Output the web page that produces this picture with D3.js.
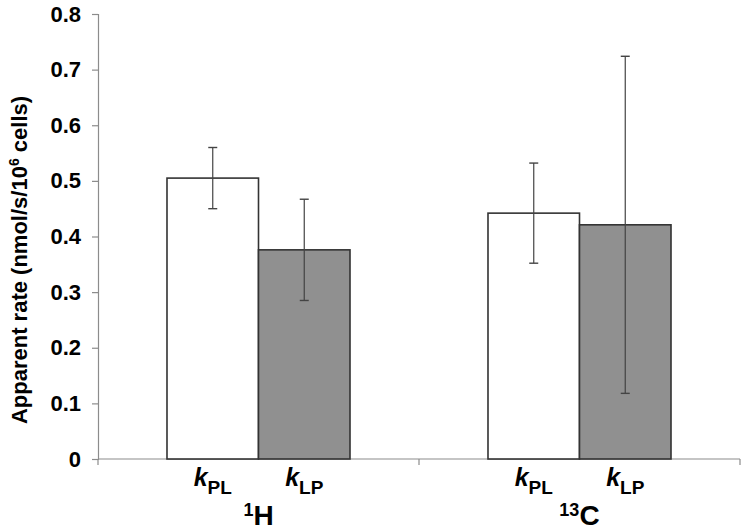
<!DOCTYPE html>
<meta charset="utf-8">
<script src="https://d3js.org/d3.v7.min.js"></script>
<style>
  body { margin: 0; background: #fff; }
  text { font-family: "Liberation Sans", Arial, sans-serif; font-weight: bold; fill: #000; }
</style>
<div id="vis"></div>
<script type="text/javascript">

var groups = ["1H", "13C"];
var groupSup = ["1", "13"];
var groupMain = ["H", "C"];
var rates = ["PL", "LP"];
var values = [[0.505, 0.376], [0.442, 0.421]];
var errors = [[0.055, 0.091], [0.090, 0.303]];
var yTicks = [0, 0.1, 0.2, 0.3, 0.4, 0.5, 0.6, 0.7, 0.8];
var fills = {PL: "#ffffff", LP: "#909090"};

var W = 744, H = 531;
var margin = {top: 14, right: 4, bottom: 72, left: 98},
    width = W - margin.left - margin.right,
    height = H - margin.top - margin.bottom;

var root = d3.select("#vis")
  .append("svg")
    .attr("width", W)
    .attr("height", H);

var svg = root.append("g")
    .attr("transform", "translate(" + margin.left + "," + margin.top + ")");

var x0 = d3.scaleBand()
  .domain(groups)
  .range([0, width]);

var x1 = d3.scaleBand()
  .domain(rates)
  .range([0, x0.bandwidth()])
  .paddingOuter(0.754);

var y = d3.scaleLinear()
  .domain([0, 0.8])
  .range([height, 0]);

// y axis
var yAxis = svg.append("g")
  .call(d3.axisLeft(y).tickValues(yTicks).tickSize(6).tickPadding(11)
    .tickFormat(d => d === 0 ? "0" : d3.format(".1f")(d)));
yAxis.select(".domain").attr("stroke", "#8c8c8c").attr("stroke-width", 1.2);
yAxis.selectAll(".tick line").attr("stroke", "#8c8c8c").attr("stroke-width", 1.2);
yAxis.selectAll(".tick text").style("font-size", "22px").attr("font-family", null);

// x axis: ticks at group boundaries
var xEdges = [0, x0.bandwidth(), width];
svg.append("line")
  .attr("x1", 0).attr("x2", width)
  .attr("y1", height).attr("y2", height)
  .attr("stroke", "#8c8c8c").attr("stroke-width", 1.2);
svg.selectAll(".xtick").data(xEdges)
  .enter().append("line")
    .attr("x1", d => d).attr("x2", d => d)
    .attr("y1", height).attr("y2", height + 6)
    .attr("stroke", "#8c8c8c").attr("stroke-width", 1.2);

// bars
var g = svg.selectAll(".grp").data(groups)
  .enter().append("g")
    .attr("transform", d => "translate(" + x0(d) + ",0)");

g.selectAll("rect").data((d, i) => rates.map((r, j) => ({r: r, v: values[i][j], e: errors[i][j]})))
  .enter().append("rect")
    .attr("x", d => x1(d.r))
    .attr("y", d => y(d.v))
    .attr("width", x1.bandwidth())
    .attr("height", d => height - y(d.v))
    .attr("fill", d => fills[d.r])
    .attr("stroke", "#333")
    .attr("stroke-width", 1.6);

// error bars
var eb = g.selectAll(".err").data((d, i) => rates.map((r, j) => ({r: r, v: values[i][j], e: errors[i][j]})))
  .enter().append("g");
eb.append("line")
  .attr("x1", d => x1(d.r) + x1.bandwidth() / 2)
  .attr("x2", d => x1(d.r) + x1.bandwidth() / 2)
  .attr("y1", d => y(d.v + d.e))
  .attr("y2", d => y(d.v - d.e))
  .attr("stroke", "#444").attr("stroke-width", 1.2);
[1, -1].forEach(s => {
  eb.append("line")
    .attr("x1", d => x1(d.r) + x1.bandwidth() / 2 - 4.5)
    .attr("x2", d => x1(d.r) + x1.bandwidth() / 2 + 4.5)
    .attr("y1", d => y(d.v + s * d.e))
    .attr("y2", d => y(d.v + s * d.e))
    .attr("stroke", "#444").attr("stroke-width", 1.4);
});

// rate labels (k with subscript)
var kl = g.selectAll(".klab").data(rates)
  .enter().append("text")
    .attr("x", d => x1(d) + x1.bandwidth() / 2)
    .attr("y", height + 27)
    .attr("text-anchor", "middle");
kl.append("tspan").text("k").style("font-style", "italic").style("font-size", "25px");
kl.append("tspan").text(d => d).attr("dy", 8).style("font-size", "19px");

// group labels (isotope)
var gl = g.append("text")
  .attr("x", x0.bandwidth() / 2)
  .attr("y", height + 66)
  .attr("text-anchor", "middle");
gl.append("tspan").text((d, i) => groupSup[i]).attr("dy", -9).style("font-size", "18px");
gl.append("tspan").text((d, i) => groupMain[i]).attr("dy", 9).style("font-size", "28px");

// y title
var yt = root.append("text")
  .attr("transform", "translate(27,260) rotate(-90)")
  .attr("text-anchor", "middle")
  .style("font-size", "22px");
yt.append("tspan").text("Apparent rate (nmol/s/10");
yt.append("tspan").text("6").attr("dy", -8).style("font-size", "14px");
yt.append("tspan").text(" cells)").attr("dy", 8);

</script>
